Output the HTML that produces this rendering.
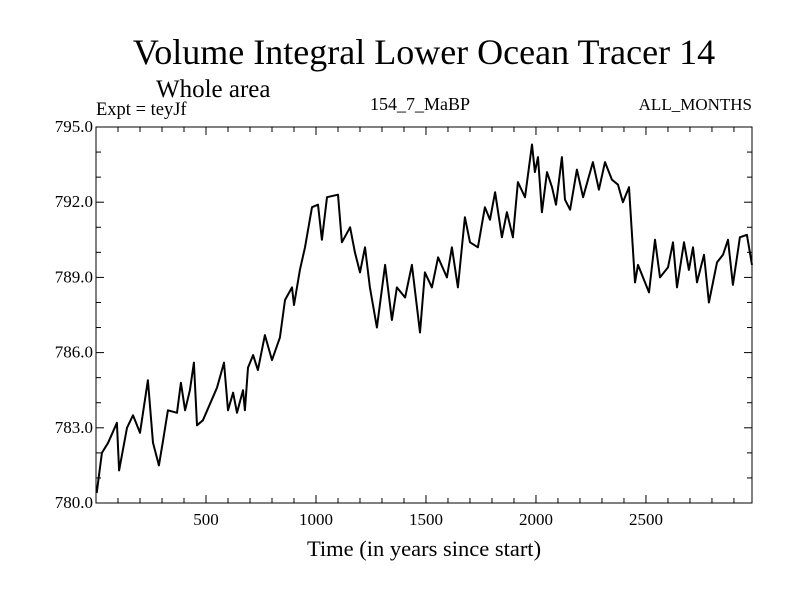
<!DOCTYPE html>
<html><head><meta charset="utf-8"><style>
body{margin:0;background:#fff;}
svg{display:block;font-family:"Liberation Serif",serif;}
</style></head><body>
<svg id="chart" width="800" height="600" xmlns="http://www.w3.org/2000/svg">
<rect width="800" height="600" fill="#fff"/>
<text x="424" y="64" font-size="36" text-anchor="middle">Volume Integral Lower Ocean Tracer 14</text>
<text x="156" y="97" font-size="25">Whole area</text>
<text x="96" y="115" font-size="18.5">Expt = teyJf</text>
<text x="420" y="110" font-size="18" text-anchor="middle">154_7_MaBP</text>
<text x="752" y="110" font-size="17" text-anchor="end">ALL_MONTHS</text>
<text x="424" y="556" font-size="22.5" text-anchor="middle">Time (in years since start)</text>
<g id="axes"></g>
<path id="series" fill="none" stroke="#000" stroke-width="2" stroke-linejoin="round"/>
<rect x="96" y="127" width="656" height="376" fill="none" stroke="#000" stroke-width="1"/>
</svg>
<script>
const years=[3,27,55,95,105,141,168,200,236,259,286,305,327,368,386,405,427,445,459,486,550,582,600,623,641,668,677,691,714,736,768,800,836,859,891,900,927,950,982,1009,1027,1050,1100,1118,1155,1177,1200,1223,1245,1277,1314,1345,1368,1405,1436,1473,1495,1527,1555,1595,1618,1645,1677,1700,1736,1768,1791,1814,1845,1868,1895,1918,1950,1982,1995,2009,2027,2050,2073,2091,2118,2132,2155,2186,2214,2259,2286,2314,2345,2373,2395,2423,2450,2464,2514,2541,2564,2600,2623,2641,2673,2695,2714,2732,2764,2786,2823,2850,2873,2895,2927,2959,2982];
const values=[780.4,782.0,782.4,783.2,781.3,783.0,783.5,782.8,784.9,782.4,781.5,782.5,783.7,783.6,784.8,783.7,784.5,785.6,783.1,783.3,784.6,785.6,783.7,784.4,783.6,784.5,783.7,785.4,785.9,785.3,786.7,785.7,786.6,788.1,788.6,787.9,789.3,790.2,791.8,791.9,790.5,792.2,792.3,790.4,791.0,790.0,789.2,790.2,788.6,787.0,789.5,787.3,788.6,788.2,789.5,786.8,789.2,788.6,789.8,789.0,790.2,788.6,791.4,790.4,790.2,791.8,791.3,792.4,790.6,791.6,790.6,792.8,792.2,794.3,793.2,793.8,791.6,793.2,792.6,791.9,793.8,792.1,791.7,793.3,792.2,793.6,792.5,793.6,792.9,792.7,792.0,792.6,788.8,789.5,788.4,790.5,789.0,789.4,790.4,788.6,790.4,789.3,790.2,788.8,789.9,788.0,789.6,789.9,790.5,788.7,790.6,790.7,789.5];
const yTickValues=[780,783,786,789,792,795];
const yTickLabels=["780.0","783.0","786.0","789.0","792.0","795.0"];
const xTickValues=[500,1000,1500,2000,2500];
const xTickLabels=["500","1000","1500","2000","2500"];
const X0=96,X1=752,Y0=503,Y1=127,xmin=0,xmax=2982,ymin=780,ymax=795;
const sx=v=>X0+(v-xmin)/(xmax-xmin)*(X1-X0);
const sy=v=>Y0-(v-ymin)/(ymax-ymin)*(Y0-Y1);
const NS="http://www.w3.org/2000/svg";
const g=document.getElementById('axes');
function line(x1,y1,x2,y2,name){const l=document.createElementNS(NS,'line');l.setAttribute('x1',x1);l.setAttribute('y1',y1);l.setAttribute('x2',x2);l.setAttribute('y2',y2);l.setAttribute('stroke','#000');l.setAttribute('stroke-width','1');


g.appendChild(l);}
function text(x,y,s,anchor,name){const t=document.createElementNS(NS,'text');t.setAttribute('x',x);t.setAttribute('y',y);t.setAttribute('font-size','17');t.setAttribute('text-anchor',anchor);t.textContent=s;


g.appendChild(t);}
for(let v=ymin;v<=ymax;v++){const y=sy(v);const L=(v%3===0)?8:5;line(X0,y,X0+L,y,'y-tick');line(X1-L,y,X1,y,'y-tick-right');}
yTickValues.forEach((v,i)=>text(X0-3,sy(v)+5,yTickLabels[i],'end','y-tick-label'));
for(let v=100;v<xmax;v+=100){const x=sx(v);const L=(v%500===0)?8:5;line(x,Y0,x,Y0-L,'x-tick');line(x,Y1,x,Y1+L,'x-tick-top');}
xTickValues.forEach((v,i)=>text(sx(v),Y0+22,xTickLabels[i],'middle','x-tick-label'));
let d='';years.forEach((yr,i)=>{d+=(i?'L':'M')+sx(yr).toFixed(1)+','+sy(values[i]).toFixed(1);});
document.getElementById('series').setAttribute('d',d);
</script>
</body></html>
